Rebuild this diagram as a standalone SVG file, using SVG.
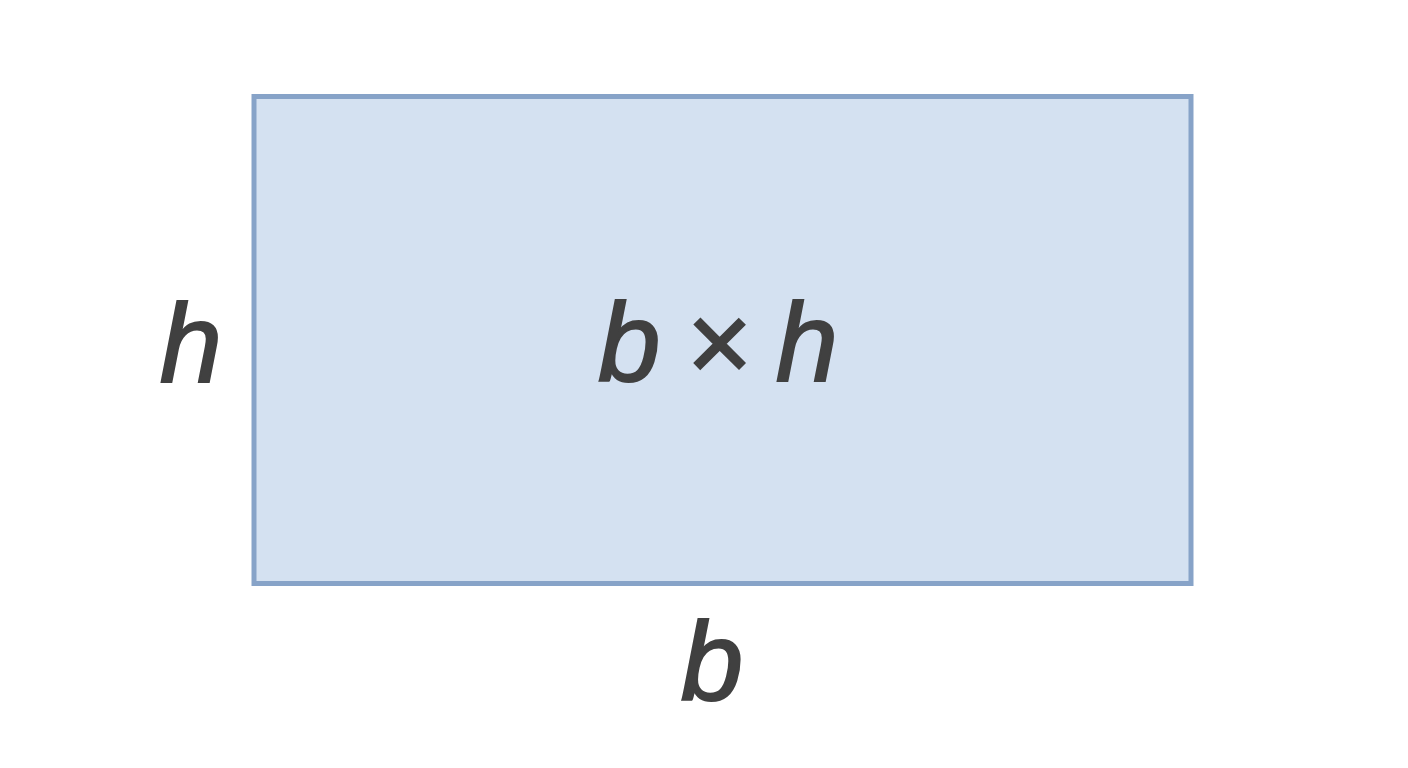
<svg xmlns="http://www.w3.org/2000/svg" width="1408" height="768" viewBox="0 0 1408 768">
<style>
.lbl{font-family:"Liberation Sans",Arial,sans-serif;font-style:italic;font-size:112px;fill:#404040;stroke:#404040;stroke-width:2;text-anchor:middle}
</style>
<rect width="1408" height="768" fill="#ffffff"/>
<g id="rect">
<rect x="254" y="96.5" width="937" height="487" fill="#d4e1f1" stroke="#87a3c8" stroke-width="5"/>
<text class="lbl" x="718" y="381" style="word-spacing:-6px">b × h</text>
</g>
<g id="label-h"><text class="lbl" x="191" y="382">h</text></g>
<g id="label-b"><text class="lbl" x="712" y="700">b</text></g>
</svg>
